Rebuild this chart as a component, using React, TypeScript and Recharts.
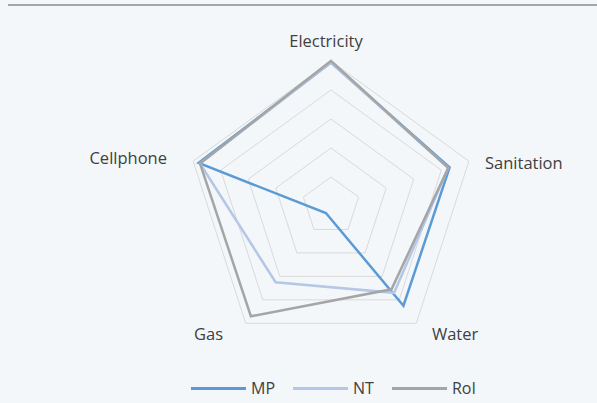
import { RadarChart, Radar, PolarGrid, PolarAngleAxis, PolarRadiusAxis, Legend } from 'recharts';

const categories = ['Electricity', 'Sanitation', 'Water', 'Gas', 'Cellphone'];
const mp = [0.99, 0.86, 0.85, 0.06, 0.96];
const nt = [0.99, 0.85, 0.74, 0.65, 0.95];
const roi = [1.0, 0.85, 0.71, 0.94, 0.95];
const gridLevels = [0.2, 0.4, 0.6, 0.8, 1.0];

const series = [
  { key: 'MP', color: '#5b9bd5' },
  { key: 'NT', color: '#b4c7e7' },
  { key: 'RoI', color: '#a5a5a5' },
];

const data = categories.map((c, i) => ({ name: c, MP: mp[i], NT: nt[i], RoI: roi[i] }));

const CX = 331;
const CY = 206;
const R = 145;
const FONT = '"Open Sans", "Noto Sans", sans-serif';

function AngleTick(props: any) {
  const { x, y, payload, textAnchor } = props;
  let dx = 0;
  let dy = 0;
  if (textAnchor === 'middle') {
    dx = -5;
    dy = -13;
  } else if (textAnchor === 'start') {
    if (y > CY) { dx = 11; dy = 4; } else { dx = 8.5; dy = 4; }
  } else {
    if (y > CY) { dx = -18; dy = 4; } else { dx = -18.5; dy = -1; }
  }
  return (
    <text x={x + dx} y={y + dy} textAnchor={textAnchor} dominantBaseline="central"
      fill="#404040" fontSize={16.5} fontFamily={FONT}>
      {payload.value}
    </text>
  );
}

function LegendContent() {
  return (
    <div style={{ display: 'flex', alignItems: 'center', paddingLeft: 191, fontFamily: FONT, fontSize: 16, color: '#404040' }}>
      {series.map((s) => (
        <div key={s.key} style={{ display: 'flex', alignItems: 'center', marginRight: 18 }}>
          <div style={{ width: 55, height: 3, background: s.color, marginRight: 5 }} />
          <span>{s.key}</span>
        </div>
      ))}
    </div>
  );
}

export default function App() {
  return (
    <div style={{ position: 'absolute', left: 0, top: 0, width: 597, height: 403, background: '#f3f7fa', overflow: 'hidden' }}>
      <div style={{ position: 'absolute', left: 8, top: 4, width: 589, height: 2, background: '#a6a6a6' }} />
      <RadarChart width={597} height={403} data={data} cx={CX} cy={CY} outerRadius={R}
        margin={{ top: 0, right: 0, bottom: 0, left: 0 }}>
        <PolarGrid gridType="polygon" radialLines={false} stroke="#d9d9d9"
          polarRadius={gridLevels.map((g) => g * R)} />
        <PolarAngleAxis dataKey="name" tick={AngleTick} tickLine={false} axisLine={false} />
        <PolarRadiusAxis domain={[0, 1]} tickCount={6} tick={false} axisLine={false} />
        {series.map((s) => (
          <Radar key={s.key} name={s.key} dataKey={s.key} stroke={s.color} strokeWidth={2.5}
            fill="none" fillOpacity={0} dot={false} isAnimationActive={false} />
        ))}
        <Legend content={LegendContent} wrapperStyle={{ top: 377, left: 0, width: 597 }} />
      </RadarChart>
    </div>
  );
}
